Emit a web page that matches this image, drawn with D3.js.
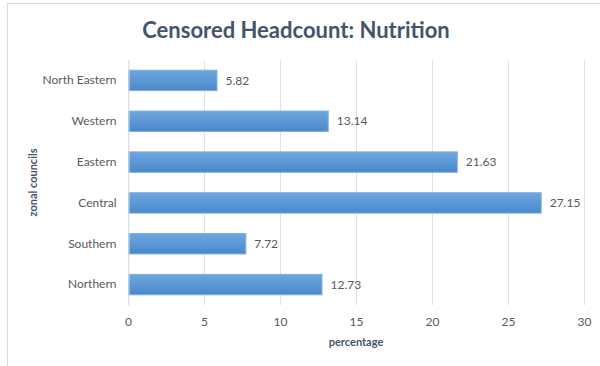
<!DOCTYPE html>
<html>
<head>
<meta charset="utf-8">
<script src="https://cdn.jsdelivr.net/npm/d3@7"></script>
<style>
  html, body { margin: 0; padding: 0; background: #fff; }
  svg { display: block; font-family: Lato, "Open Sans", sans-serif; }
</style>
</head>
<body>
<svg id="chart" width="600" height="366"></svg>
<script>
// Zonal councils and their censored headcount ratio (%) for nutrition
const categories = ["North Eastern", "Western", "Eastern", "Central", "Southern", "Northern"];
const values = [5.82, 13.14, 21.63, 27.15, 7.72, 12.73];
const xTicks = [0, 5, 10, 15, 20, 25, 30];

const svg = d3.select("#chart");
const margin = { left: 128, right: 16, top: 60, bottom: 61 };
const W = 600, H = 366;

// Outer chart frame
svg.append("rect")
  .attr("x", 7.5).attr("y", 3.5)
  .attr("width", W).attr("height", H)
  .attr("fill", "#fff").attr("stroke", "#d9dde3").attr("stroke-width", 1);

const x = d3.scaleLinear().domain([0, 30]).range([margin.left, W - margin.right]);
const y = d3.scaleBand().domain(categories).range([margin.top, H - margin.bottom]).paddingInner(0.5).paddingOuter(0.25);

// Vertical gridlines
svg.append("g")
  .selectAll("line")
  .data(xTicks)
  .join("line")
  .attr("x1", d => Math.round(x(d)) + 0.5)
  .attr("x2", d => Math.round(x(d)) + 0.5)
  .attr("y1", margin.top)
  .attr("y2", H - margin.bottom)
  .attr("stroke", "#dfe3e8")
  .attr("stroke-width", 1);

// Bar gradient
const defs = svg.append("defs");
const grad = defs.append("linearGradient").attr("id", "barGrad")
  .attr("x1", 0).attr("y1", 0).attr("x2", 0).attr("y2", 1);
grad.append("stop").attr("offset", "0%").attr("stop-color", "#6ea6de");
grad.append("stop").attr("offset", "50%").attr("stop-color", "#5c98d6");
grad.append("stop").attr("offset", "100%").attr("stop-color", "#4a87c8");

// Bars
svg.append("g")
  .selectAll("rect")
  .data(categories)
  .join("rect")
  .attr("x", x(0) + 0.5)
  .attr("y", d => y(d))
  .attr("width", (d, i) => x(values[i]) - x(0))
  .attr("height", y.bandwidth())
  .attr("fill", "url(#barGrad)")
  .attr("stroke", "#7fb0e0")
  .attr("stroke-width", 1);

// Value labels
svg.append("g")
  .selectAll("text")
  .data(categories)
  .join("text")
  .attr("x", (d, i) => x(values[i]) + 9)
  .attr("y", d => y(d) + y.bandwidth() / 2)
  .attr("dy", "0.35em")
  .attr("font-size", 12)
  .attr("fill", "#595959")
  .text((d, i) => values[i].toFixed(2));

// Category axis (left)
const yAxis = svg.append("g")
  .attr("transform", `translate(${margin.left + 0.5},0)`)
  .call(d3.axisLeft(y).tickSize(0).tickPadding(12));
yAxis.select(".domain").attr("stroke", "#dfe3e8");
yAxis.selectAll("text").attr("font-size", 12).attr("fill", "#595959")
  .attr("font-family", "Lato, 'Open Sans', sans-serif");

// Value axis (bottom)
const xAxis = svg.append("g")
  .attr("transform", `translate(0,${H - margin.bottom})`)
  .call(d3.axisBottom(x).tickValues(xTicks).tickSize(0).tickPadding(12));
xAxis.select(".domain").remove();
xAxis.selectAll("text").attr("font-size", 12).attr("fill", "#595959")
  .attr("font-family", "Lato, 'Open Sans', sans-serif");

// Title
svg.append("text")
  .attr("x", 296).attr("y", 38)
  .attr("text-anchor", "middle")
  .attr("font-size", 22).attr("font-weight", "bold")
  .attr("fill", "#44546a")
  .text("Censored Headcount: Nutrition");

// Axis titles
svg.append("text")
  .attr("x", (margin.left + W - margin.right) / 2).attr("y", 346)
  .attr("text-anchor", "middle")
  .attr("font-size", 11).attr("font-weight", "bold")
  .attr("fill", "#44546a")
  .text("percentage");

svg.append("text")
  .attr("transform", `translate(37,${(margin.top + H - margin.bottom) / 2}) rotate(-90)`)
  .attr("text-anchor", "middle")
  .attr("font-size", 11).attr("font-weight", "bold")
  .attr("fill", "#44546a")
  .text("zonal councils");
</script>
</body>
</html>
